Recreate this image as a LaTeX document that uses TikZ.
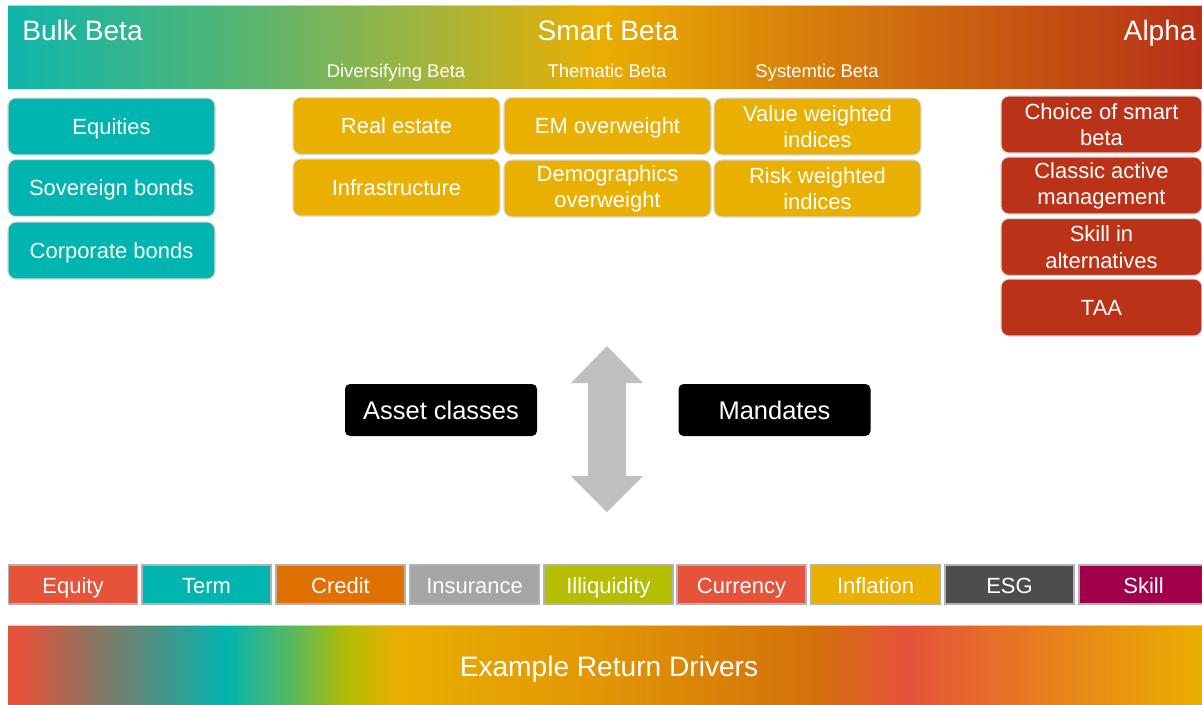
\documentclass[tikz,border=0pt]{standalone}
\usepackage{fontspec}
\setmainfont{Liberation Sans}
\usepackage{xcolor}
\usepackage{tikz}
\usetikzlibrary{positioning}

\definecolor{bulkteal}{HTML}{00B5AF}
\definecolor{smartgold}{HTML}{EAB000}
\definecolor{alphared}{HTML}{BA3318}
\definecolor{arrowgray}{HTML}{C0C0C0}
\definecolor{eqred}{HTML}{E5533A}
\definecolor{creditorange}{HTML}{E07000}
\definecolor{insgray}{HTML}{A5A5A5}
\definecolor{illiqgreen}{HTML}{B5BE00}
\definecolor{esggray}{HTML}{4D4D4D}
\definecolor{skillplum}{HTML}{A0004B}
% banner colours
\definecolor{ba}{HTML}{0FB5AC}
\definecolor{bb}{HTML}{52B575}
\definecolor{bc}{HTML}{A4B43C}
\definecolor{bd}{HTML}{EAAE00}
\definecolor{be}{HTML}{D8800B}
\definecolor{bf}{HTML}{B73018}
% bottom bar colours
\definecolor{da}{HTML}{E5533A}
\definecolor{db}{HTML}{8F735F}
\definecolor{dc}{HTML}{02B5AF}
\definecolor{dd}{HTML}{58B862}
\definecolor{de}{HTML}{B0BD05}
\definecolor{df}{HTML}{EAAE00}
\definecolor{dg}{HTML}{E19605}
\definecolor{dh}{HTML}{D4700C}
\definecolor{di}{HTML}{E8801E}

\begin{document}
\begin{tikzpicture}[boxnode/.style={rectangle, rounded corners=0.16cm, draw=gray!30, line width=0.6pt, text=white, minimum height=1.14cm, inner sep=2pt, align=center, font=\fontsize{12.5}{15}\selectfont},
oneline/.style={text height=10.5pt, text depth=1.5pt},
bulknode/.style={boxnode, fill=bulkteal, minimum width=4.14cm},
smartnode/.style={boxnode, fill=smartgold, minimum width=4.14cm},
alphanode/.style={boxnode, fill=alphared, minimum width=4.02cm},
mandnode/.style={rectangle, rounded corners=0.1cm, fill=black, text=white, minimum width=3.84cm, minimum height=1.04cm, text height=12pt, text depth=1.1pt, font=\fontsize{14.5}{17}\selectfont},
drivernode/.style={rectangle, draw=gray!60, line width=0.6pt, text=white, minimum width=2.58cm, minimum height=0.78cm, inner sep=0pt, text height=10.5pt, text depth=0.7pt, font=\fontsize{12.5}{15}\selectfont},
headnode/.style={text=white, inner sep=0pt, font=\fontsize{16}{19}\selectfont},
subnode/.style={text=white, inner sep=0pt, font=\fontsize{10.5}{12}\selectfont}]
\useasboundingbox (0,0) rectangle (24.04,-14.08);

% top banner
\shade[left color=ba, right color=bb] (0.16,-0.10) rectangle (4.61,-1.76);
\shade[left color=bb, right color=bc] (4.60,-0.10) rectangle (8.61,-1.76);
\shade[left color=bc, right color=bd] (8.60,-0.10) rectangle (12.01,-1.76);
\shade[left color=bd, right color=be] (12.00,-0.10) rectangle (16.01,-1.76);
\shade[left color=be, right color=bf] (16.00,-0.10) rectangle (24.04,-1.76);
\draw[gray!40, line width=0.5pt] (0.16,-0.10) -- (24.04,-0.10);

\node[headnode, anchor=base west] (bulk) at (0.44,-0.80) {Bulk Beta};
\node[headnode, anchor=base] (smart) at (12.16,-0.80) {Smart Beta};
\node[headnode, anchor=base east] (alpha) at (23.92,-0.80) {Alpha};
\node[subnode, anchor=base] (divers) at (7.92,-1.54) {Diversifying Beta};
\node[subnode, anchor=base] (thematic) at (12.14,-1.54) {Thematic Beta};
\node[subnode, anchor=base] (systemic) at (16.34,-1.54) {Systemtic Beta};

% bulk beta
\node[bulknode, oneline] (equities) at (2.23,-2.53) {Equities};
\node[bulknode, oneline] (sovereign) at (2.23,-3.76) {Sovereign bonds};
\node[bulknode, oneline] (corporate) at (2.23,-5.01) {Corporate bonds};

% smart beta
\node[smartnode, oneline] (realestate) at (7.93,-2.52) {Real estate};
\node[smartnode, oneline] (infra) at (7.93,-3.75) {Infrastructure};
\node[smartnode, oneline] (emover) at (12.15,-2.52) {EM overweight};
\node[smartnode] (demog) at (12.15,-3.77) {Demographics\\overweight};
\node[smartnode] (valueidx) at (16.35,-2.53) {Value weighted\\indices};
\node[smartnode] (riskidx) at (16.35,-3.77) {Risk weighted\\indices};

% alpha
\node[alphanode] (choice) at (22.03,-2.49) {Choice of smart\\beta};
\node[alphanode] (classic) at (22.03,-3.71) {Classic active\\management};
\node[alphanode] (altskill) at (22.03,-4.94) {Skill in\\alternatives};
\node[alphanode, oneline] (taa) at (22.03,-6.15) {TAA};

% middle
\node[mandnode] (assets) at (8.82,-8.20) {Asset classes};
\node[mandnode] (mandates) at (15.49,-8.20) {Mandates};
\fill[arrowgray] (12.14,-6.92) -- (12.86,-7.66) -- (12.52,-7.66) -- (12.52,-9.52) -- (12.86,-9.52) -- (12.14,-10.24) -- (11.42,-9.52) -- (11.76,-9.52) -- (11.76,-7.66) -- (11.42,-7.66) -- cycle;

% return drivers
\node[drivernode, fill=eqred] (equity) at (1.46,-11.69) {Equity};
\node[drivernode, fill=bulkteal] (term) at (4.13,-11.69) {Term};
\node[drivernode, fill=creditorange] (credit) at (6.81,-11.69) {Credit};
\node[drivernode, fill=insgray] (insurance) at (9.49,-11.69) {Insurance};
\node[drivernode, fill=illiqgreen] (illiquidity) at (12.17,-11.69) {Illiquidity};
\node[drivernode, fill=eqred] (currency) at (14.83,-11.69) {Currency};
\node[drivernode, fill=smartgold] (inflation) at (17.51,-11.69) {Inflation};
\node[drivernode, fill=esggray] (esg) at (20.19,-11.69) {ESG};
\node[drivernode, fill=skillplum] (skill) at (22.87,-11.69) {Skill};

% bottom bar
\shade[left color=da, right color=da] (0.16,-12.50) rectangle (0.41,-14.08);
\shade[left color=da, right color=db] (0.40,-12.50) rectangle (1.81,-14.08);
\shade[left color=db, right color=dc] (1.80,-12.50) rectangle (4.53,-14.08);
\shade[left color=dc, right color=dd] (4.52,-12.50) rectangle (5.83,-14.08);
\shade[left color=dd, right color=de] (5.82,-12.50) rectangle (6.91,-14.08);
\shade[left color=de, right color=df] (6.90,-12.50) rectangle (7.91,-14.08);
\shade[left color=df, right color=dg] (7.90,-12.50) rectangle (12.01,-14.08);
\shade[left color=dg, right color=dh] (12.00,-12.50) rectangle (16.31,-14.08);
\shade[left color=dh, right color=da] (16.30,-12.50) rectangle (18.11,-14.08);
\shade[left color=da, right color=di] (18.10,-12.50) rectangle (21.01,-14.08);
\shade[left color=di, right color=df] (21.00,-12.50) rectangle (24.04,-14.08);
\draw[gray!40, line width=0.5pt] (0.16,-12.50) -- (24.04,-12.50);
\node[headnode, text height=11.5pt, text depth=3.3pt] (drivers) at (12.18,-13.38) {Example Return Drivers};

\end{tikzpicture}
\end{document}
